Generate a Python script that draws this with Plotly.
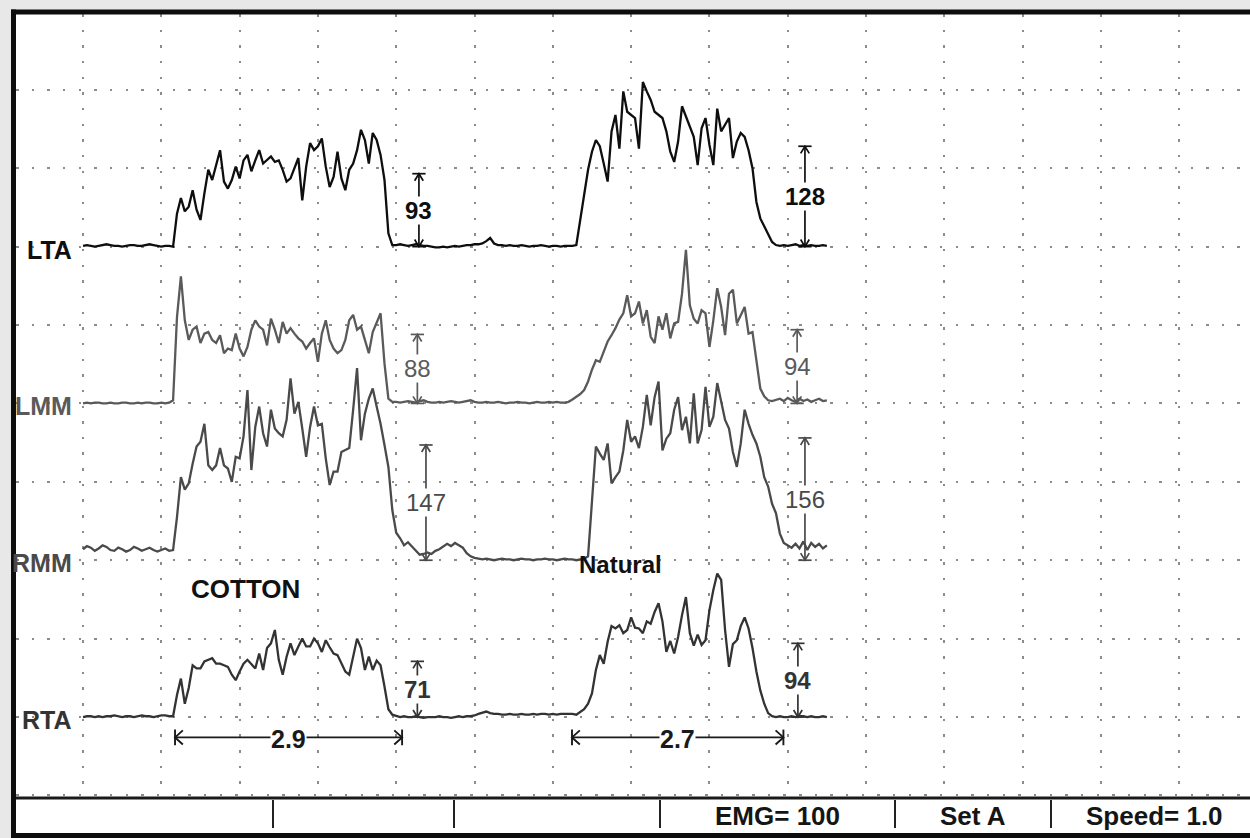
import numpy as np
import plotly.graph_objects as go

# ---------------------------------------------------------------------------
# EMG envelopes, one sample every 0.05 s starting at t = 0 (values in µV,
# measured from each channel's own baseline)
# ---------------------------------------------------------------------------
SAMPLE_STEP_S = 0.05

LTA_UV = [
    1, 2, 1, 0, 1, 2, 3, 2, 1, 1, 0, 1, 2, 2, 1, 1, 2, 3, 2, 1, 0, 1, 1,
    0,
    42, 62, 45, 51, 72, 47, 34, 68, 98, 85,
    104, 123, 83, 74, 85, 102, 87, 110, 117, 96,
    110, 123, 106, 110, 115, 108, 110, 98, 83, 87,
    100, 113, 59, 102, 132, 123, 128, 138, 102, 76,
    89, 121, 87, 72, 98, 106, 123, 149, 136, 106,
    145, 136, 117, 85, 17, 2,
    2, 3, 2, 1, 2, 3, 2, 1, 1, 0,
    -1, -1, 0, -1, 0, 1, 0, 1, 2, 2,
    3, 3, 4, 7, 11, 4, 2, 2, 1, 2,
    1, 1, 2, 1, 0, 1, 1, 2, 1, 0,
    1, 1, 0, 1, 1, 1,
    2, 32, 66, 98, 121, 136, 128, 106, 83, 147,
    168, 125, 198, 172, 168, 164, 125, 210, 198, 187,
    172, 168, 164, 147, 121, 108, 134, 179, 166, 155,
    140, 104, 151, 164, 130, 104, 176, 147, 155, 164,
    113, 134, 145, 140, 123, 100, 57, 36, 26, 17,
    6, 2,
    1, 2, 1, 2, 3, 1, 2, 1, 2, 1, 1, 2, 1,
]

LMM_UV = [
    0, 1, 0, 1, 1, 0, 0, 1, 0, 0, 1, 1, 0, 0, 1, 0, 1, 1, 0, 0, 1, 0, 1,
    4,
    110, 162, 106, 81, 94, 98, 77, 89, 91, 81,
    77, 87, 64, 70, 68, 89, 70, 60, 72, 94,
    106, 98, 94, 74, 108, 94, 77, 104, 89, 96,
    89, 83, 79, 70, 77, 83, 53, 89, 106, 81,
    70, 64, 68, 81, 106, 113, 94, 98, 81, 64,
    91, 104, 115, 51, 6, 2,
    2, 1, 2, 3, 2, 1, 3, 4, 2, 1,
    1, 2, 1, 2, 3, 2, 1, 2, 3, 4,
    2, 1, 1, 2, 1, 1, 2, 1, 0, 1,
    1, 2, 1, 1, 0, 1, 2, 1, 1, 2,
    1, 2, 1, 1, 2, 5,
    8, 12, 17, 28, 43, 55, 53, 67, 79, 87,
    96, 107, 115, 138, 111, 115, 130, 102, 119, 85,
    77, 111, 94, 115, 83, 102, 104, 140, 196, 125,
    108, 102, 119, 115, 72, 106, 147, 123, 87, 140,
    145, 102, 113, 123, 89, 91, 55, 19, 9, 4,
    3, 5,
    6, 3, 7, 4, 2, 6, 3, 5, 2, 4, 6, 3, 4,
]

RMM_UV = [
    14, 18, 16, 12, 15, 19, 17, 13, 12, 16, 14, 11, 13, 17, 15, 12, 14, 16, 13, 11, 13, 15, 12,
    13,
    55, 106, 90, 98, 123, 145, 151, 174, 121, 115,
    121, 143, 121, 117, 100, 132, 130, 158, 217, 115,
    170, 196, 162, 145, 192, 168, 162, 158, 179, 232,
    187, 202, 168, 132, 170, 196, 172, 174, 130, 96,
    113, 113, 138, 140, 143, 192, 245, 153, 187, 206,
    219, 196, 174, 147, 119, 64,
    35, 28, 19, 23, 18, 13, 7, 8, 10, 8,
    12, 14, 18, 21, 18, 22, 19, 16, 9, 5,
    3, 2, 1, 2, 1, 0, 1, 2, 1, 1,
    0, 1, 2, 1, 1, 0, 1, 1, 2, 1,
    1, 0, 1, 2, 1, 1, 0, 1, 2, 5,
    72, 145, 136, 128, 149, 98, 106, 113, 140, 179,
    151, 158, 143, 170, 211, 172, 208, 228, 140, 155,
    162, 192, 208, 166, 183, 149, 213, 149, 166, 221,
    170, 183, 226, 200, 179, 168, 138, 119, 149, 192,
    174, 160, 149, 132, 106, 94, 72, 60, 34, 22,
    19, 16, 21, 15, 24, 13, 22, 17, 21, 15, 19,
]

RTA_UV = [
    0, 1, 1, 0, 1, 0, 1, 1, 2, 1, 0, 1, 1, 0, 1, 2, 1, 1, 0, 1, 2, 2, 1,
    1,
    28, 49, 17, 37, 66, 62, 62, 71, 73, 75,
    68, 68, 66, 64, 54, 47, 58, 68, 73, 68,
    62, 81, 60, 88, 94, 111, 73, 54, 77, 94,
    79, 90, 100, 90, 90, 100, 94, 83, 98, 89,
    81, 79, 68, 58, 54, 77, 100, 88, 60, 77,
    60, 72, 66, 39, 10, 3,
    1, 0, 1, 0, 0, 1, 0, -1, 0, 0,
    0, 1, 0, 0, -1, 0, 1, 0, 1, 1,
    2, 4, 6, 7, 5, 4, 4, 3, 3, 4,
    3, 3, 4, 3, 3, 4, 3, 4, 4, 3,
    4, 3, 4, 4, 4, 4, 3, 7, 10, 17,
    30, 60, 79, 68, 96, 116, 113, 117, 107, 111,
    127, 114, 113, 107, 122, 119, 134, 145, 122, 83,
    97, 81, 102, 130, 153, 107, 91, 105, 92, 98,
    136, 162, 183, 175, 111, 64, 93, 98, 116, 127,
    113, 88, 58, 34, 17, 5, 1, 0, 1, 0,
    0, 1, 0, 1, 1, 0, 1, 0, 0, 1, 0,
]

CHANNELS = ["LTA", "LMM", "RMM", "RTA"]

# mean burst amplitudes (µV) and the time at which each was marked (s)
AMP_CHANNEL = ["LTA", "LTA", "LMM", "LMM", "RMM", "RMM", "RTA", "RTA"]
AMP_TIME_S = [4.29, 9.22, 4.27, 9.12, 4.38, 9.22, 4.27, 9.13]
AMP_UV = [93, 128, 88, 94, 147, 156, 71, 94]

# burst durations (s)
DUR_START_S = [1.175, 6.245]
DUR_S = [2.9, 2.7]

CONDITIONS = ["COTTON", "Natural"]

STATUS_FIELDS = ["", "", "", "EMG= 100", "Set A", "Speed= 1.0"]

# ---------------------------------------------------------------------------
# page geometry and styling
# ---------------------------------------------------------------------------
W, H = 1250, 838
M_L, M_R, M_T, M_B = 16, 0, 14, 41
X_RANGE = [-0.856, 14.904]          # seconds, 1 grid division = 1 s
Y_RANGE = [-102, 896.7]             # µV, 1 grid division = 100 µV
OFFSET = {"LTA": 600, "LMM": 400, "RMM": 200, "RTA": 0}
COLOR = {"LTA": "#0e0e0e", "LMM": "#5a5a5a", "RMM": "#4a4a4a", "RTA": "#333333"}
NUM_BOLD = {"LTA": True, "LMM": False, "RMM": False, "RTA": True}
FONT = "Liberation Sans, Arial, sans-serif"
LABEL_X_S = -0.115
CONDITION_POS = [(2.08, 163), (6.86, 194)]
DUR_LEVEL_UV = -26
STATUS_DIVIDERS_PX = [16, 273, 454, 660, 895, 1051, 1262]

SERIES = {"LTA": LTA_UV, "LMM": LMM_UV, "RMM": RMM_UV, "RTA": RTA_UV}


def paper_x(px):
    return (px - M_L) / (W - M_L - M_R)


def paper_y(py):
    return (H - M_B - py) / (H - M_T - M_B)


fig = go.Figure()
shapes = []
annotations = []


def data_line(x0, y0, x1, y1, color, width=1.7):
    shapes.append(dict(type="line", xref="x", yref="y", x0=x0, y0=y0, x1=x1, y1=y1,
                       line=dict(color=color, width=width)))


def data_path(path, color, width=1.7):
    shapes.append(dict(type="path", xref="x", yref="y", path=path,
                       line=dict(color=color, width=width)))


def paper_line(x0, y0, x1, y1, color="#111111", width=2):
    shapes.append(dict(type="line", xref="paper", yref="paper", x0=x0, y0=y0, x1=x1, y1=y1,
                       line=dict(color=color, width=width), layer="above"))


# EMG traces
for ch in CHANNELS:
    v = np.asarray(SERIES[ch], dtype=float)
    t = np.arange(len(v)) * SAMPLE_STEP_S
    fig.add_trace(go.Scatter(
        x=t, y=v + OFFSET[ch], mode="lines",
        line=dict(color=COLOR[ch], width=2.3),
        hoverinfo="skip", showlegend=False,
    ))
    annotations.append(dict(
        x=LABEL_X_S, y=OFFSET[ch], xref="x", yref="y", text=f"<b>{ch}</b>",
        showarrow=False, xanchor="right", yanchor="middle", yshift=-3,
        font=dict(family=FONT, size=25, color=COLOR[ch]),
    ))

# amplitude calipers: height of each caliper is the labelled value
BAR_HALF = 0.085
HEAD_HALF = 0.055
HEAD_LEN = 9
for ch, tm, amp in zip(AMP_CHANNEL, AMP_TIME_S, AMP_UV):
    base = OFFSET[ch]
    top = base + amp
    c = COLOR[ch]
    data_line(tm, base, tm, top, c)
    data_line(tm - BAR_HALF, top, tm + BAR_HALF, top, c)
    data_path(f"M {tm - HEAD_HALF},{top - HEAD_LEN} L {tm},{top} L {tm + HEAD_HALF},{top - HEAD_LEN}", c)
    data_line(tm - BAR_HALF, base, tm + BAR_HALF, base, c)
    data_path(f"M {tm - HEAD_HALF},{base + HEAD_LEN} L {tm},{base} L {tm + HEAD_HALF},{base + HEAD_LEN}", c)
    label = f"<b>{amp}</b>" if NUM_BOLD[ch] else str(amp)
    annotations.append(dict(
        x=tm, y=base + amp / 2, xref="x", yref="y", text=label,
        showarrow=False, xanchor="center", yanchor="middle",
        bgcolor="white", borderpad=0,
        font=dict(family=FONT, size=24, color=c),
    ))

# burst-duration brackets
for t0, d in zip(DUR_START_S, DUR_S):
    t1 = t0 + d
    y = DUR_LEVEL_UV
    c = "#1a1a1a"
    data_line(t0, y, t1, y, c, 1.9)
    data_line(t0, y - 10, t0, y + 10, c, 1.9)
    data_line(t1, y - 10, t1, y + 10, c, 1.9)
    data_path(f"M {t0 + 0.1},{y + 9} L {t0},{y} L {t0 + 0.1},{y - 9}", c, 1.9)
    data_path(f"M {t1 - 0.1},{y + 9} L {t1},{y} L {t1 - 0.1},{y - 9}", c, 1.9)
    annotations.append(dict(
        x=(t0 + t1) / 2, y=y, xref="x", yref="y", text=f"<b>{d}</b>",
        showarrow=False, xanchor="center", yanchor="middle", yshift=-2,
        bgcolor="white", borderpad=0,
        font=dict(family=FONT, size=25, color=c),
    ))

# condition captions
for name, (tx, ty) in zip(CONDITIONS, CONDITION_POS):
    annotations.append(dict(
        x=tx, y=ty, xref="x", yref="y", text=f"<b>{name}</b>",
        showarrow=False, xanchor="center", yanchor="middle",
        font=dict(family=FONT, size=26 if name == "COTTON" else 24, color="#111111"),
    ))

# status bar below the trace area
shapes.append(dict(type="rect", xref="paper", yref="paper",
                   x0=paper_x(16), x1=paper_x(1262), y0=paper_y(833), y1=paper_y(798),
                   fillcolor="white", line=dict(width=0), layer="below"))
paper_line(paper_x(12), paper_y(798), paper_x(1262), paper_y(798), "#1a1a1a", 3)
for px in STATUS_DIVIDERS_PX[1:-1]:
    paper_line(paper_x(px), paper_y(800), paper_x(px), paper_y(828), "#222222", 2)
for i, field in enumerate(STATUS_FIELDS):
    if not field:
        continue
    cx = (STATUS_DIVIDERS_PX[i] + min(STATUS_DIVIDERS_PX[i + 1], 1258)) / 2
    annotations.append(dict(
        x=paper_x(cx), y=paper_y(816), xref="paper", yref="paper", text=f"<b>{field}</b>",
        showarrow=False, xanchor="center", yanchor="middle",
        font=dict(family=FONT, size=26, color="#151515"),
    ))

# outer frame
paper_line(paper_x(13.5), paper_y(840), paper_x(13.5), paper_y(9.5), "#0d0d0d", 5)
paper_line(paper_x(11), paper_y(12), paper_x(1262), paper_y(12), "#0d0d0d", 5)
paper_line(paper_x(11), paper_y(835.5), paper_x(1262), paper_y(835.5), "#0d0d0d", 5)

grid_style = dict(
    showgrid=True, gridcolor="#8c8c8c", gridwidth=2, griddash="2.5px,13.16px",
    zeroline=False, showticklabels=False, ticks="", showline=False, fixedrange=True,
)

fig.update_layout(
    width=W, height=H,
    margin=dict(l=M_L, r=M_R, t=M_T, b=M_B, pad=0),
    paper_bgcolor="#e8e8e8",
    plot_bgcolor="#ffffff",
    xaxis=dict(range=X_RANGE, dtick=1, tick0=0, **grid_style),
    yaxis=dict(range=Y_RANGE, dtick=100, tick0=0, **grid_style),
    shapes=shapes,
    annotations=annotations,
    showlegend=False,
    font=dict(family=FONT),
)

fig.write_html("out.html", config={"displayModeBar": False})
